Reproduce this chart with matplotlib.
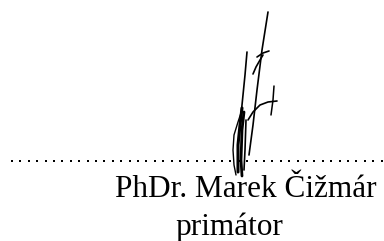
import numpy as np
import matplotlib.pyplot as plt

# text content
name_text = "PhDr. Marek Čižmár"
title_text = "primátor"

# dotted signature line (pixel coords of the page)
dots_x = np.arange(12, 384, 8.4)
dots_y = np.full(len(dots_x), 161.0)

# signature strokes, as (x, y) pixel points, with widths
strokes = [
    ([(268, 12), (262, 50), (257, 90), (253, 125), (249, 155)], 1.2),
    ([(247, 52), (245, 75), (243, 95), (241, 115)], 1.2),
    ([(242, 108), (240, 125), (238, 145), (238, 172)], 2.2),
    ([(253, 74), (256, 67), (260, 60), (263, 55)], 1.2),
    ([(257, 57), (263, 53), (269, 51)], 1.2),
    ([(248, 120), (253, 112), (260, 105), (268, 102), (277, 101)], 1.2),
    ([(274, 86), (273, 100), (271, 115)], 1.1),
    ([(242, 110), (238, 122), (234, 135), (233, 150), (234, 165), (236, 175)], 1.0),
    ([(244, 112), (242, 130), (241, 160), (242, 176)], 2.0),
    ([(246, 120), (245, 150), (244, 170)], 1.2),
]

fig = plt.figure(figsize=(3.84, 2.41), dpi=100)
ax = fig.add_axes([0, 0, 1, 1])
ax.set_xlim(0, 384)
ax.set_ylim(241, 0)
ax.axis("off")

ax.scatter(dots_x, dots_y, s=3.5, color="black", marker="s", linewidths=0)

for st, w in strokes:
    xs = [p[0] for p in st]
    ys = [p[1] for p in st]
    ax.plot(xs, ys, color="black", lw=w, solid_capstyle="round")

ax.text(377, 197, name_text, ha="right", va="baseline",
        fontsize=22.5, family="Liberation Serif", color="black")
ax.text(229, 235, title_text, ha="center", va="baseline",
        fontsize=22.5, family="Liberation Serif", color="black")

fig.savefig("out.png", dpi=100, facecolor="white")
